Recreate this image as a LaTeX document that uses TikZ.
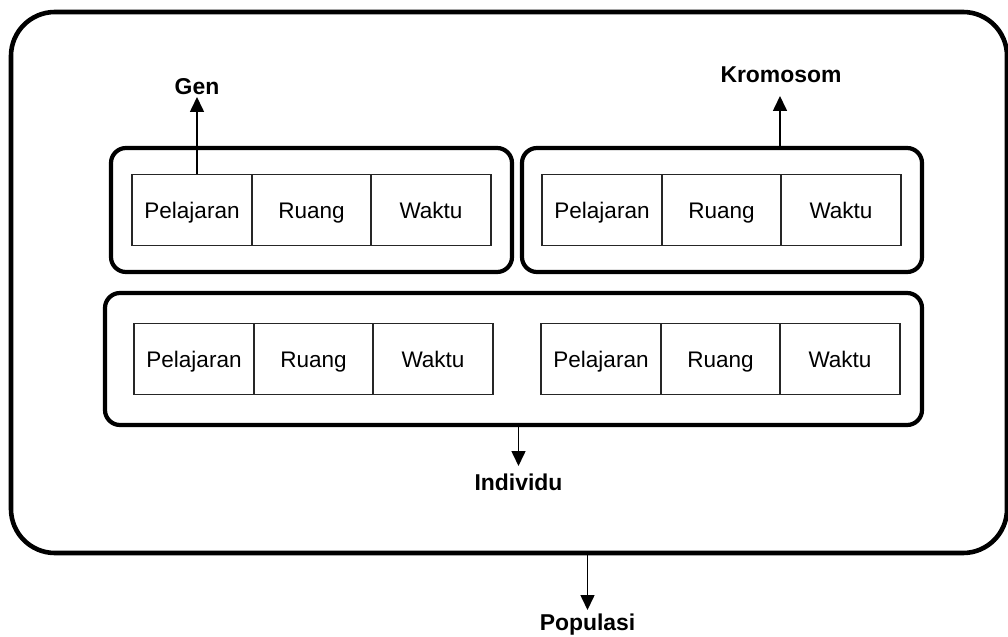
\documentclass[tikz,border=0pt]{standalone}
\usepackage{fontspec}
\setmainfont{Liberation Sans}
\usetikzlibrary{arrows.meta}
\begin{document}
\begin{tikzpicture}[x=1bp,y=-1bp,
  cell/.style={draw=black!85, line width=1.7bp, minimum width=120bp, minimum height=71bp,
    inner sep=0pt, text height=16.2bp, text depth=0pt, font=\fontsize{22.6}{26}\selectfont},
  group/.style={draw, line width=4.2bp, rounded corners=15bp, inner sep=0pt},
  label/.style={font=\bfseries\fontsize{23}{27}\selectfont, inner sep=0pt},
  link/.style={line width=1.6bp, -{Triangle[width=14bp,length=15bp]}}
]
\useasboundingbox (0,0) rectangle (1008,637);

% population frame
\node[draw, line width=4.6bp, rounded corners=44bp, inner sep=0pt,
  minimum width=996bp, minimum height=541bp] (frame) at (509,282.5) {};

% chromosome groups
\node[group, minimum width=401bp, minimum height=124bp] (g1) at (311.5,210) {};
\node[group, minimum width=400bp, minimum height=124bp] (g2) at (722,210) {};
\node[group, minimum width=817bp, minimum height=132bp] (g3) at (513.5,359) {};

% genes: first chromosome
\node[cell] (a1) at (192,210) {Pelajaran};
\node[cell] (a2) at (311.5,210) {Ruang};
\node[cell] (a3) at (431,210) {Waktu};
% second chromosome
\node[cell] (b1) at (602,210) {Pelajaran};
\node[cell] (b2) at (721.5,210) {Ruang};
\node[cell] (b3) at (841,210) {Waktu};
% individual
\node[cell] (c1) at (194,359) {Pelajaran};
\node[cell] (c2) at (313.5,359) {Ruang};
\node[cell] (c3) at (433,359) {Waktu};
\node[cell] (d1) at (601,359) {Pelajaran};
\node[cell] (d2) at (720.5,359) {Ruang};
\node[cell] (d3) at (840,359) {Waktu};

% labels
\node[label, anchor=base] (gen) at (197,95) {Gen};
\node[label, anchor=base] (krom) at (781,83) {Kromosom};
\node[label, anchor=base] (ind) at (518.5,490) {Individu};
\node[label, anchor=base] (pop) at (587.5,630) {Populasi};

% arrow tips
\coordinate (gentip) at (197,97);
\coordinate (kromtip) at (780,96);
\coordinate (indtip) at (518.5,466);
\coordinate (poptip) at (587.5,610);

\draw[link] (a1.north -| gentip) -- (gentip);
\draw[link] (g2.north -| kromtip) -- (kromtip);
\draw[link] (g3.south -| indtip) -- (indtip);
\draw[link] (frame.south -| poptip) -- (poptip);
\end{tikzpicture}
\end{document}
